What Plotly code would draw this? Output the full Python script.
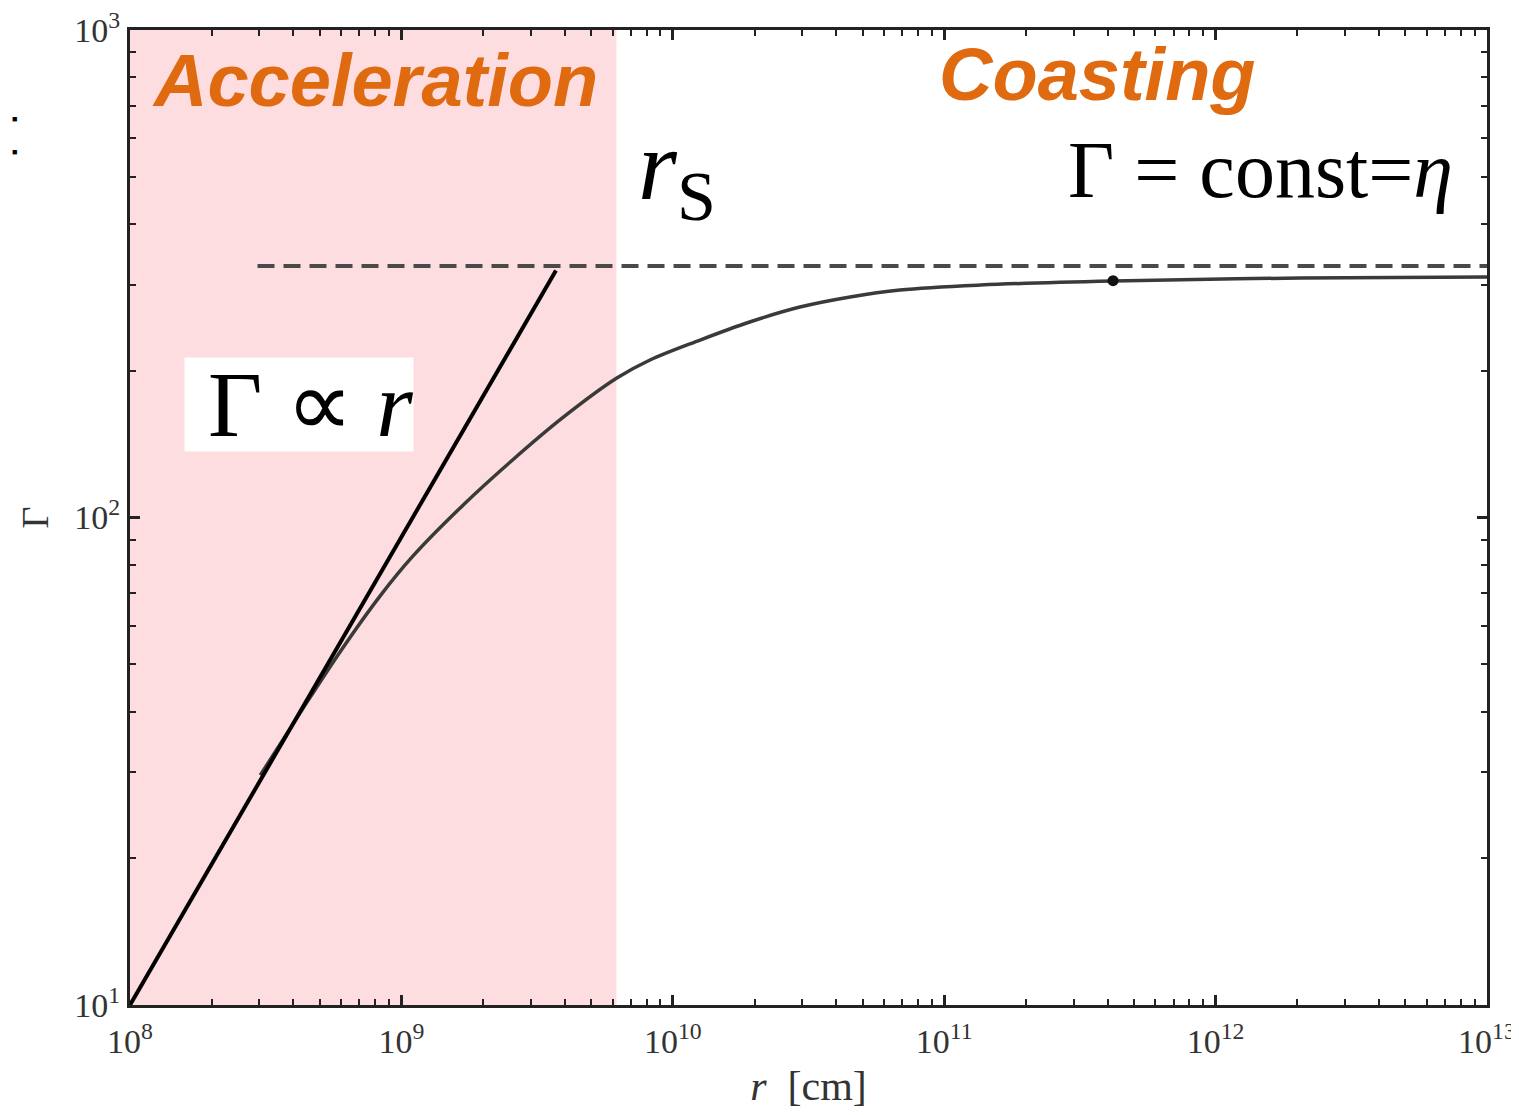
import plotly.graph_objects as go

# ---- data ----
curve_r = [3.02e8, 4.23e8, 5.94e8, 8.34e8, 1.104e9, 1.69e9, 2.58e9, 3.94e9, 6.22e9,
           8.24e9, 1.26e10, 1.92e10, 2.94e10, 4.50e10, 6.87e10, 1.36e11, 4.19e11,
           2.05e12, 1.0e13]
curve_gamma = [29.6, 39.7, 53.0, 69.0, 83.4, 106.1, 131.5, 160.4, 193.2,
               210.4, 231.2, 251.8, 270.2, 283.4, 292.9, 299.8, 305.6,
               309.9, 311.3]

linear_r = [1.0e8, 3.71e9]
linear_gamma = [10.0, 321.0]

eta_r = [2.95e8, 1.0e13]
eta_gamma = [328.0, 328.0]

marker_r = [4.19e11]
marker_gamma = [306.0]

accel_region = [1.0e8, 6.2e9]

x_tickvals = [1e8, 1e9, 1e10, 1e11, 1e12, 1e13]
x_ticktext = ["10<sup>8</sup>", "10<sup>9</sup>", "10<sup>10</sup>", "10<sup>11</sup>",
              "10<sup>12</sup>", "10<sup>13</sup>"]
y_tickvals = [1e1, 1e2, 1e3]
y_ticktext = ["10<sup>1</sup>", "10<sup>2</sup>", "10<sup>3</sup>"]
minor_mult = [2, 3, 4, 5, 6, 7, 8, 9]
x_minor = [m * d for d in x_tickvals[:-1] for m in minor_mult]
y_minor = [m * d for d in y_tickvals[:-1] for m in minor_mult]

ORANGE = "#e06a10"
SERIF = "Liberation Serif"

fig = go.Figure()

fig.add_trace(go.Scatter(x=eta_r, y=eta_gamma, mode="lines",
                         line=dict(color="#4a4a4a", width=4, dash="17px,9px"),
                         hoverinfo="skip", showlegend=False))
fig.add_trace(go.Scatter(x=curve_r, y=curve_gamma, mode="lines",
                         line=dict(color="#3a3a3a", width=3.5, shape="spline", smoothing=1.0),
                         showlegend=False))
fig.add_trace(go.Scatter(x=linear_r, y=linear_gamma, mode="lines",
                         line=dict(color="#000000", width=4), showlegend=False))
fig.add_trace(go.Scatter(x=marker_r, y=marker_gamma, mode="markers",
                         marker=dict(color="#111111", size=11), showlegend=False))

fig.add_shape(type="rect", xref="x", yref="paper",
              x0=accel_region[0], x1=accel_region[1], y0=0, y1=1,
              fillcolor="#fddde0", line=dict(width=0), layer="below")

axis_common = dict(
    type="log", showgrid=False, zeroline=False,
    showline=True, linecolor="#222222", linewidth=3, mirror="allticks",
    ticks="inside", ticklen=10, tickwidth=2.5, tickcolor="#222222",
    ticklabeloverflow="allow",
    tickfont=dict(family=SERIF, size=34, color="#333333"),
)

fig.update_xaxes(range=[8, 13], tickmode="array", tickvals=x_tickvals, ticktext=x_ticktext,
                 ticklabelstandoff=4,
                 minor=dict(ticks="inside", ticklen=6, tickwidth=2, tickcolor="#222222",
                            tickmode="array", tickvals=x_minor, showgrid=False),
                 title=dict(text="<i>r</i>  [cm]", font=dict(family=SERIF, size=42, color="#333333"),
                            standoff=12),
                 **axis_common)
fig.update_yaxes(range=[1, 3], tickmode="array", tickvals=y_tickvals, ticktext=y_ticktext,
                 minor=dict(ticks="inside", ticklen=6, tickwidth=2, tickcolor="#222222",
                            tickmode="array", tickvals=y_minor, showgrid=False),
                 title=dict(text="Γ", font=dict(family=SERIF, size=38, color="#333333"),
                            standoff=14),
                 **axis_common)

# page is offset by the 8px body margin
W, H = 1511, 1107
L, R, T, B = 122, 32, 22, 110
PL, PT = 130, 30            # plot-area origin in page pixels
pw, ph = 1357, 975


def px(x):
    return (x - PL) / pw


def py(y):
    return (PT + ph - y) / ph


annotations = [
    dict(text="<b><i>Acceleration</i></b>", x=px(375), y=py(80),
         font=dict(family="Liberation Sans", size=74, color=ORANGE)),
    dict(text="<b><i>Coasting</i></b>", x=px(1097), y=py(75),
         font=dict(family="Liberation Sans", size=74, color=ORANGE)),
    dict(text="<i>r</i><sub>S</sub>", x=px(677), y=py(172),
         font=dict(family=SERIF, size=100, color="#000000")),
    dict(text="Γ = const=<i>η</i>", x=px(1260), y=py(170),
         font=dict(family=SERIF, size=80, color="#000000")),
    dict(text=" ", x=px(299), y=py(405), width=226, height=91,
         bgcolor="#ffffff", font=dict(size=10)),
    dict(text="Γ ∝ <i>r</i>", x=px(310), y=py(404),
         font=dict(family=SERIF, size=94, color="#000000")),
    dict(text="■", x=px(14), y=py(118), font=dict(size=9, color="#000000")),
    dict(text="■", x=px(14), y=py(151), font=dict(size=9, color="#000000")),
]
for a in annotations:
    a.update(xref="paper", yref="paper", showarrow=False,
             xanchor="center", yanchor="middle")
fig.update_layout(annotations=annotations)

fig.update_layout(width=W, height=H, margin=dict(l=L, r=R, t=T, b=B, autoexpand=False),
                  paper_bgcolor="#ffffff", plot_bgcolor="#ffffff",
                  showlegend=False)

fig.write_html("out.html")
